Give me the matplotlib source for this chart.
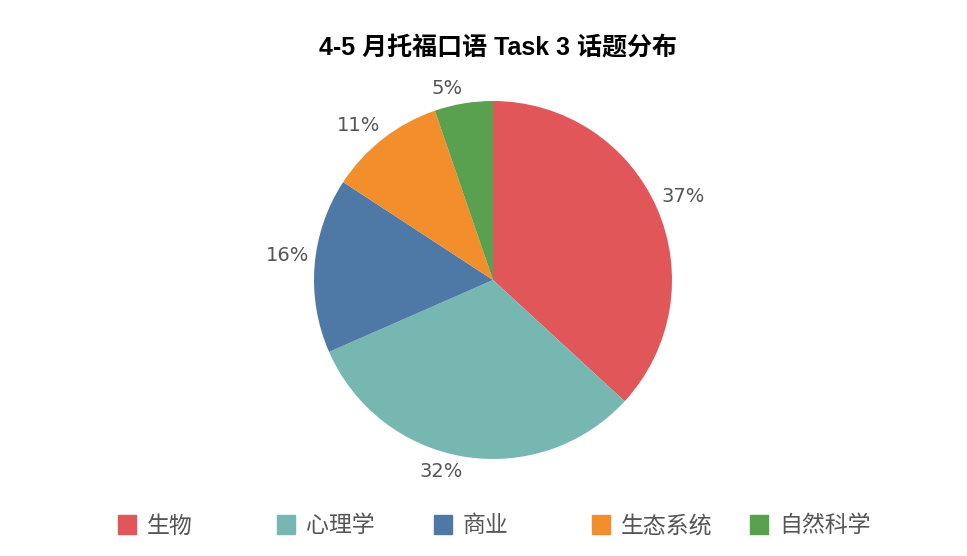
import matplotlib
matplotlib.use("Agg")
import matplotlib.pyplot as plt
from matplotlib.patches import Rectangle

plt.rcParams['font.family'] = ['Noto Sans CJK SC', 'DejaVu Sans']

title = "4-5 月托福口语 Task 3 话题分布"
categories = ["生物", "心理学", "商业", "生态系统", "自然科学"]
counts = [7, 6, 3, 2, 1]
colors = ["#E15759", "#76B7B2", "#4E79A7", "#F28E2B", "#59A14F"]

W, H = 967, 556
fig = plt.figure(figsize=(W / 100, H / 100), dpi=100)

cx, cy, r = 493, 280, 179
ax = fig.add_axes([(cx - r) / W, (H - cy - r) / H, 2 * r / W, 2 * r / H])
wedges, texts, autotexts = ax.pie(
    counts, colors=colors, startangle=90, counterclock=False,
    autopct=lambda p: f"{p:.0f}%", pctdistance=1.03,
    wedgeprops=dict(linewidth=0), radius=1,
    textprops=dict(color="#555555", fontsize=14, family=['DejaVu Sans']))
for t in autotexts:
    x, y = t.get_position()
    t.set_ha('left' if x > 0 else 'right')
    t.set_va('bottom' if y > 0 else 'top')
ax.set_xlim(-1, 1)
ax.set_ylim(-1, 1)
ax.set_aspect('equal')
ax.axis('off')

fig.text(498 / W, 1 - 48 / H, title, ha='center', va='center',
         fontsize=18, fontweight='bold', color='black',
         family=['Liberation Sans', 'Noto Sans CJK SC'])

legend_x = [118, 277, 434, 592, 750]
ly = 524
for x, lab, col in zip(legend_x, categories, colors):
    fig.patches.append(Rectangle((x / W, 1 - (ly + 9.5) / H), 18 / W, 19 / H,
                                 transform=fig.transFigure, color=col))
    fig.text((x + 29) / W, 1 - (ly + 2) / H, lab, ha='left', va='center',
             fontsize=16.5, color='#555555')

fig.savefig("out.png", dpi=100)
